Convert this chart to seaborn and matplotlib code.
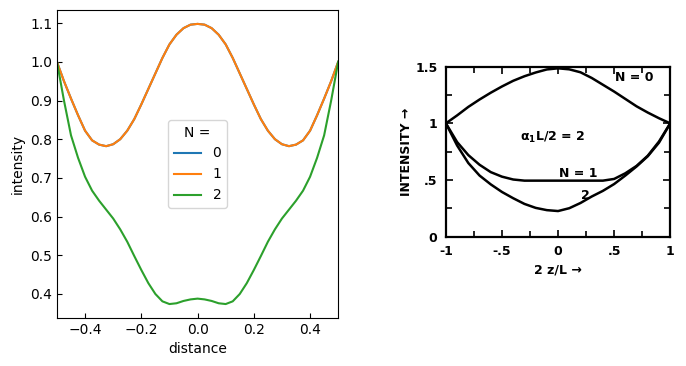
import numpy as np
import pandas as pd
import matplotlib
matplotlib.use("Agg")
import matplotlib.pyplot as plt
import seaborn as sns

# ---- left panel data ----
distance = [-0.5, -0.475, -0.45, -0.425, -0.4, -0.375, -0.35, -0.325, -0.3, -0.275,
            -0.25, -0.225, -0.2, -0.175, -0.15, -0.125, -0.1, -0.075, -0.05, -0.025,
            0.0, 0.025, 0.05, 0.075, 0.1, 0.125, 0.15, 0.175, 0.2, 0.225,
            0.25, 0.275, 0.3, 0.325, 0.35, 0.375, 0.4, 0.425, 0.45, 0.475, 0.5]
intensity_n0 = [1.0, 0.95, 0.905, 0.862, 0.822, 0.797, 0.786, 0.782, 0.787, 0.8,
                0.822, 0.852, 0.89, 0.93, 0.97, 1.01, 1.045, 1.07, 1.087, 1.096,
                1.098, 1.096, 1.087, 1.07, 1.045, 1.01, 0.97, 0.93, 0.89, 0.852,
                0.822, 0.8, 0.787, 0.782, 0.786, 0.797, 0.822, 0.862, 0.905, 0.95, 1.0]
intensity_n1 = list(intensity_n0)
intensity_n2 = [1.0, 0.9, 0.81, 0.752, 0.703, 0.667, 0.641, 0.618, 0.595, 0.567,
                0.535, 0.498, 0.462, 0.428, 0.4, 0.381, 0.374, 0.376, 0.382, 0.386,
                0.388, 0.386, 0.382, 0.376, 0.374, 0.381, 0.4, 0.428, 0.462, 0.498,
                0.535, 0.567, 0.595, 0.618, 0.641, 0.667, 0.703, 0.752, 0.81, 0.9, 1.0]
n_labels = ["0", "1", "2"]

# ---- right panel data (scanned reference figure) ----
z_ref = [-1.0, -0.9, -0.8, -0.7, -0.6, -0.5, -0.4, -0.3, -0.2, -0.1, 0.0,
         0.1, 0.2, 0.3, 0.4, 0.5, 0.6, 0.7, 0.8, 0.9, 1.0]
ref_n0 = [1.0, 1.07, 1.145, 1.21, 1.27, 1.325, 1.375, 1.415, 1.448, 1.475, 1.485,
          1.476, 1.45, 1.40, 1.34, 1.28, 1.215, 1.15, 1.095, 1.045, 1.0]
ref_n1 = [1.0, 0.835, 0.72, 0.635, 0.57, 0.53, 0.505, 0.495, 0.495, 0.495, 0.495,
          0.495, 0.495, 0.495, 0.495, 0.51, 0.56, 0.625, 0.715, 0.84, 1.0]
ref_n2 = [1.0, 0.805, 0.65, 0.54, 0.462, 0.395, 0.34, 0.29, 0.255, 0.235, 0.227,
          0.252, 0.298, 0.355, 0.405, 0.465, 0.54, 0.62, 0.71, 0.83, 1.0]

fig = plt.figure(figsize=(6.86, 3.66), dpi=100)
ax1 = fig.add_axes([0.083, 0.131, 0.410, 0.842])
ax2 = fig.add_axes([0.650, 0.353, 0.327, 0.465])

df = pd.DataFrame({
    "distance": distance * 3,
    "intensity": intensity_n0 + intensity_n1 + intensity_n2,
    "N": [n_labels[0]] * len(distance) + [n_labels[1]] * len(distance) + [n_labels[2]] * len(distance),
})
sns.lineplot(data=df, x="distance", y="intensity", hue="N", palette="tab10",
             ax=ax1, linewidth=1.5)
ax1.set_xlim(-0.5, 0.5)
ax1.set_xticks([-0.4, -0.2, 0.0, 0.2, 0.4])
ax1.set_yticks([0.4, 0.5, 0.6, 0.7, 0.8, 0.9, 1.0, 1.1])
ax1.tick_params(direction="in")
ax1.set_xlabel("distance")
ax1.set_ylabel("intensity")
ax1.legend(title="N =", loc="center")

# right panel: redraw of scanned figure
for ys in (ref_n0, ref_n1, ref_n2):
    sns.lineplot(x=z_ref, y=ys, ax=ax2, color="black", linewidth=1.8)
ax2.set_xlim(-1, 1)
ax2.set_ylim(0, 1.5)
ax2.set_xticks([-1, -0.5, 0, 0.5, 1])
ax2.set_xticklabels(["-1", "-.5", "0", ".5", "1"], fontweight="bold")
ax2.set_yticks([0, 0.5, 1, 1.5])
ax2.set_yticklabels(["0", ".5", "1", "1.5"], fontweight="bold")
ax2.set_xticks([-0.75, -0.25, 0.25, 0.75], minor=True)
ax2.set_yticks([0.25, 0.75, 1.25], minor=True)
ax2.tick_params(which="both", direction="in", top=True, right=True, width=1.2, labelsize=9)
ax2.tick_params(which="major", length=5, pad=6)
ax2.tick_params(which="minor", length=4)
for s in ax2.spines.values():
    s.set_linewidth(1.6)
ax2.set_xlabel("2 z/L \u2192", fontweight="bold", fontsize=9)
ax2.set_ylabel("INTENSITY \u2192", fontweight="bold", fontsize=9, labelpad=2)
ax2.text(0.68, 1.40, "N = 0", fontweight="bold", fontsize=9, ha="center", va="center")
ax2.text(0.18, 0.56, "N = 1", fontweight="bold", fontsize=9, ha="center", va="center")
ax2.text(0.24, 0.36, "2", fontweight="bold", fontsize=9, ha="center", va="center")
ax2.text(-0.05, 0.88, r"$\mathbf{\alpha_1}$L/2 = 2", fontweight="bold", fontsize=9,
         ha="center", va="center")

fig.savefig("out.png", dpi=100)
